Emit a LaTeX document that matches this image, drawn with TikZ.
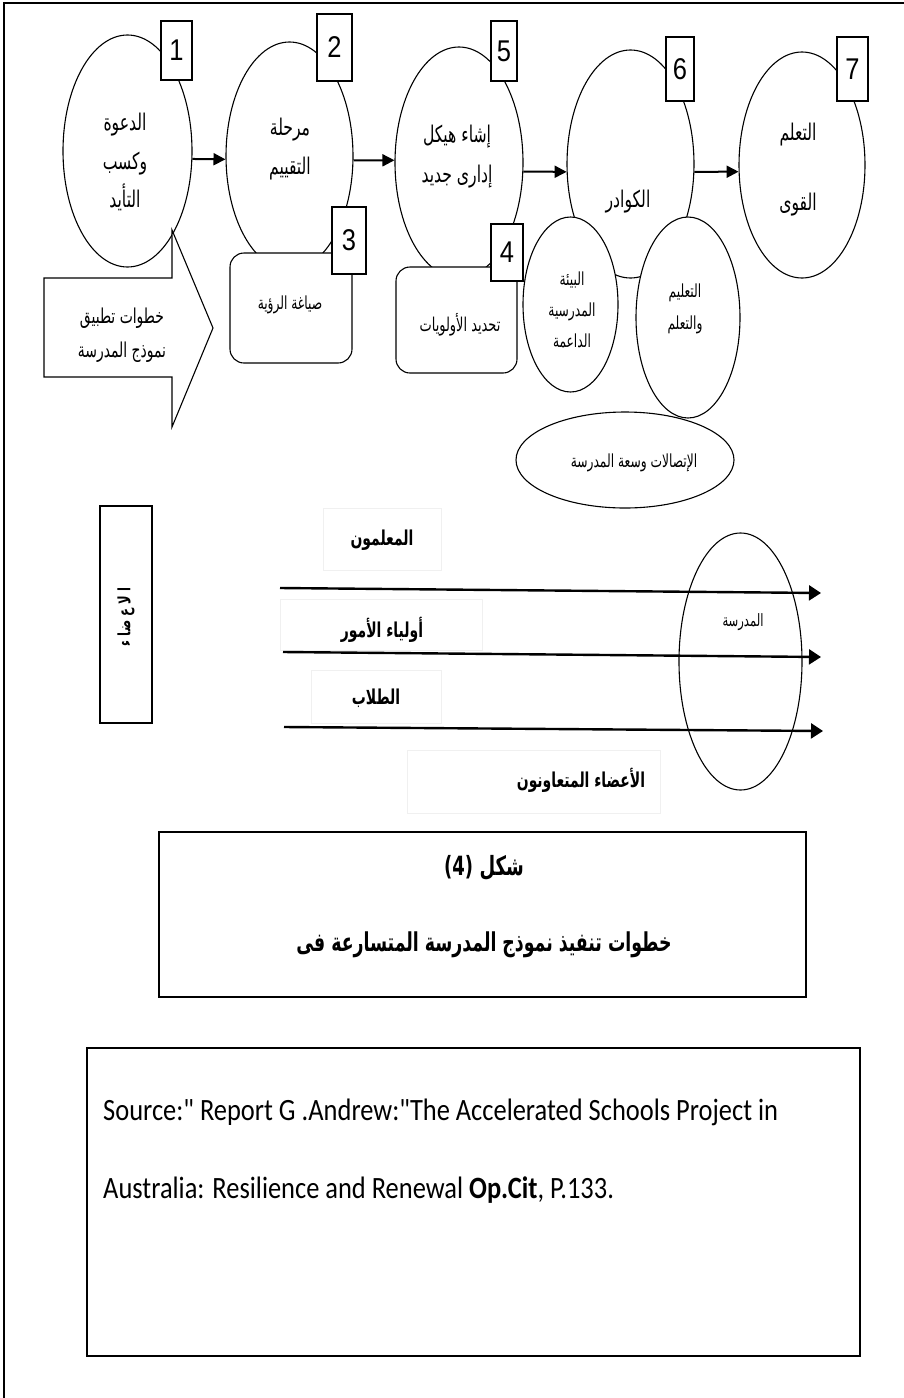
\documentclass[tikz,border=0pt]{standalone}
\usepackage{graphicx}
\usepackage{fontspec}
\usetikzlibrary{shapes.geometric,arrows.meta}
\TeXXeTstate=1
\newfontfamily\arabicfont[Script=Arabic]{DejaVu Sans}
\newfontfamily\numfont{Liberation Sans}
\newfontfamily\srcfont{Carlito}
\newcommand{\AR}[1]{\scalebox{0.68}[1]{\beginR #1\endR}}
\newcommand{\NUM}[1]{\scalebox{0.85}[1]{#1}}
\begin{document}
\begin{tikzpicture}[x=1pt,y=-1pt,
  ell/.style={ellipse, draw, line width=1.1pt, fill=white, inner sep=0pt},
  numbox/.style={draw, line width=1.4pt, fill=white, inner sep=0pt, font=\numfont\fontsize{30}{30}\selectfont},
  rbox/.style={draw, line width=1.1pt, fill=white, rounded corners=14pt, inner sep=0pt},
  arr/.style={line width=2pt, -{Triangle[length=12pt,width=12pt]}},
  marr/.style={line width=2.4pt, -{Triangle[length=12pt,width=15pt]}},
  faint/.style={draw=black!6, line width=0.6pt, inner sep=0pt},
  atxt/.style={font=\arabicfont\fontsize{23}{38.5}\selectfont, align=center, inner sep=0pt},
  stxt/.style={font=\arabicfont\fontsize{18}{31}\selectfont, align=center, inner sep=0pt},
  btxt/.style={font=\arabicfont\bfseries\fontsize{20.5}{22}\selectfont, align=center, inner sep=0pt},
  frame/.style={draw, line width=1.5pt, inner sep=0pt}
]
\useasboundingbox (0,0) rectangle (904,1398);
\fill[white] (0,0) rectangle (904,1398);
\draw[line width=1.5pt] (4,1398) -- (4,3) -- (904,3);

% top row ellipses
\node[ell, minimum width=129pt, minimum height=232pt] (e1) at (127.5,151) {};
\node[ell, minimum width=127pt, minimum height=228pt] (e2) at (289.5,156) {};
\node[ell, minimum width=128pt, minimum height=231pt] (e5) at (459,162.5) {};
\node[ell, minimum width=127pt, minimum height=228pt] (e6) at (630.5,164) {};
\node[ell, minimum width=126pt, minimum height=226pt] (e7) at (802,165) {};

% small ellipses under e6
\node[ell, minimum width=218pt, minimum height=96pt] (comm) at (625,460) {};
\node[ell, minimum width=95pt, minimum height=175pt] (s1) at (570.5,304.5) {};
\node[ell, minimum width=104pt, minimum height=201pt] (s2) at (688,317.5) {};

% rounded boxes
\node[rbox, minimum width=122pt, minimum height=110pt] (r3) at (291,308) {};
\node[rbox, minimum width=121pt, minimum height=106pt] (r4) at (456.5,320) {};

% number boxes
\node[numbox, minimum width=31pt, minimum height=59pt] (n1) at (176.5,50.5) {\NUM{1}};
\node[numbox, minimum width=35pt, minimum height=67pt] (n2) at (334.5,47.5) {\NUM{2}};
\node[numbox, minimum width=34pt, minimum height=67pt] (n3) at (349,240.5) {\NUM{3}};
\node[numbox, minimum width=32pt, minimum height=57pt] (n4) at (507,252.5) {\NUM{4}};
\node[numbox, minimum width=26pt, minimum height=60pt] (n5) at (504,51) {\NUM{5}};
\node[numbox, minimum width=28pt, minimum height=64pt] (n6) at (680,69) {\NUM{6}};
\node[numbox, minimum width=31pt, minimum height=64pt] (n7) at (852.5,69) {\NUM{7}};

% arrows of the top row
\draw[arr] (e1.-7) -- (e2.183);
\draw[arr] (e2.-4) -- (e5.178);
\draw[arr] (e5.-8.5) -- (e6.187);
\draw[arr] (e6.-7) -- (e7.186);

% texts of the top row
\node[atxt] (t1) at (125,162) {\AR{الدعوة}\\\AR{وكسب}\\\AR{التأيد}};
\node[atxt] (t2) at (290,149) {\AR{مرحلة}\\\AR{التقييم}};
\node[atxt, font=\arabicfont\fontsize{23}{40}\selectfont] (t5) at (457,157) {\AR{إشاء هيكل}\\\AR{إدارى جديد}};
\node[atxt] (t6) at (628,202) {\AR{الكوادر}};
\node[atxt, font=\arabicfont\fontsize{23}{70}\selectfont] (t7) at (798,170) {\AR{التعلم}\\\AR{القوى}};
\node[stxt] (tr3) at (290,305) {\AR{صياغة الرؤية}};
\node[stxt, font=\arabicfont\fontsize{19}{19}\selectfont] (tr4) at (460,325) {\AR{تحديد الأولويات}};
\node[stxt] (ts1) at (572,310) {\AR{البيئة}\\\AR{المدرسية}\\\AR{الداعمة}};
\node[stxt, font=\arabicfont\fontsize{18}{32}\selectfont] (ts2) at (685,309) {\AR{التعليم}\\\AR{والتعلم}};
\node[stxt] (tcomm) at (634,463) {\AR{الإتصالات وسعة المدرسة}};

% block arrow
\draw[line width=1.1pt, fill=white] (44,278) -- (172,278) -- (172,230) -- (213,328) -- (172,427) -- (172,377) -- (44,377) -- cycle;
\node[atxt, font=\arabicfont\fontsize{20.5}{34}\selectfont] (tba) at (122,335) {\AR{خطوات تطبيق}\\\AR{نموذج المدرسة}};

% members box
\node[frame, minimum width=52pt, minimum height=217pt] (mem) at (126,614.5) {};
\node[btxt, rotate=90, font=\arabicfont\bfseries\fontsize{17}{17}\selectfont] (tmem) at (126,617) {\AR{ا لا ع ضا ء}};

% faint text frames and member labels
\node[faint, minimum width=118pt, minimum height=62pt] (f1) at (382,539) {};
\node[faint, minimum width=202pt, minimum height=51pt] (f2) at (381,624.5) {};
\node[faint, minimum width=130pt, minimum height=53pt] (f3) at (376,696.5) {};
\node[faint, minimum width=253pt, minimum height=63pt] (f4) at (533.5,781.5) {};
\node[btxt] (tm1) at (382,540) {\AR{المعلمون}};
\node[btxt] (tm2) at (382,630) {\AR{أولياء الأمور}};
\node[btxt] (tm3) at (376,698) {\AR{الطلاب}};
\node[btxt] (tm4) at (581,780) {\AR{الأعضاء المتعاونون}};

% school ellipse
\node[ellipse, draw, line width=1.1pt, inner sep=0pt, minimum width=123pt, minimum height=257pt] (school) at (740.5,661.5) {};
\node[stxt, font=\arabicfont\fontsize{17}{17}\selectfont] (tschool) at (743,622) {\AR{المدرسة}};

% member arrows
\coordinate (a1s) at (280,588); \coordinate (a1e) at (821,593);
\coordinate (a2s) at (283,652); \coordinate (a2e) at (821,657);
\coordinate (a3s) at (284,727); \coordinate (a3e) at (823,731);
\draw[marr] (a1s) -- (a1e);
\draw[marr] (a2s) -- (a2e);
\draw[marr] (a3s) -- (a3e);

% caption box
\node[frame, minimum width=647pt, minimum height=165pt] (cap) at (482.5,914.5) {};
\node[btxt, font=\arabicfont\bfseries\fontsize{26.5}{26.5}\selectfont] (cap1) at (484,868) {\AR{شكل \beginL(4)\endL}};
\node[btxt, font=\arabicfont\bfseries\fontsize{26}{26}\selectfont] (cap2) at (484,945) {\scalebox{0.98}[1]{\AR{خطوات تنفيذ نموذج المدرسة المتسارعة فى}}};

% source box
\node[frame, minimum width=773pt, minimum height=308pt] (src) at (473.5,1202) {};
\node[anchor=west, inner sep=0pt, font=\srcfont\fontsize{31}{31}\selectfont] (s1t) at (103,1112) {\scalebox{0.853}[1]{Source:" Report G .Andrew:"The Accelerated Schools Project in}};
\node[anchor=west, inner sep=0pt, font=\srcfont\fontsize{31}{31}\selectfont] (s2t) at (103,1190) {\scalebox{0.853}[1]{Australia: Resilience and Renewal \textbf{Op.Cit}, P.133.}};
\end{tikzpicture}
\end{document}
